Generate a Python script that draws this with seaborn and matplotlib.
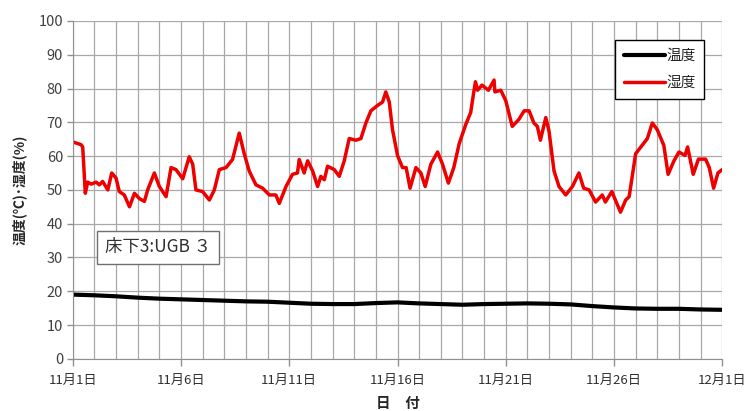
import matplotlib.pyplot as plt
import matplotlib.ticker as ticker
import pandas as pd
import seaborn as sns

# days since 11/1
hum_day = [0, 0.38, 0.46, 0.58, 0.69, 0.85, 1.08, 1.23, 1.38, 1.62, 1.8, 2.0, 2.15, 2.38, 2.62,
           2.85, 3.08, 3.31, 3.46, 3.77, 4.0, 4.31, 4.54, 4.77, 5.08, 5.38, 5.54, 5.69, 6.0,
           6.31, 6.54, 6.77, 7.08, 7.38, 7.69, 7.92, 8.15, 8.46, 8.77, 9.08, 9.38, 9.54, 9.85,
           10.15, 10.38, 10.46, 10.69, 10.85, 11.08, 11.31, 11.46, 11.62, 11.77, 12.08, 12.31,
           12.54, 12.77, 13.08, 13.31, 13.54, 13.77, 14.08, 14.31, 14.46, 14.62, 14.77, 15.0,
           15.23, 15.4, 15.58, 15.85, 16.08, 16.28, 16.54, 16.85, 17.08, 17.35, 17.6, 17.85,
           18.15, 18.38, 18.5, 18.6, 18.7, 18.9, 19.2, 19.46, 19.5, 19.77, 20.0, 20.3, 20.6,
           20.85, 21.08, 21.3, 21.46, 21.6, 21.85, 22.0, 22.23, 22.46, 22.77, 23.08, 23.38,
           23.6, 23.85, 24.15, 24.46, 24.6, 24.9, 25.3, 25.54, 25.7, 26.0, 26.3, 26.54, 26.77,
           27.0, 27.3, 27.5, 27.77, 28.0, 28.28, 28.4, 28.66, 28.9, 29.23, 29.4, 29.6, 29.8,
           30.0]
humidity = [64.2, 63.4, 62.7, 49, 52.3, 51.7, 52.3, 51.5, 52.5, 50, 55, 53.5, 49.5, 48.5, 45,
            49, 47.4, 46.6, 50, 55, 51, 48, 56.6, 56, 53.3, 59.8, 57.6, 50, 49.5,
            47, 50, 56, 56.6, 59, 66.8, 60.7, 55.6, 51.5, 50.5, 48.5, 48.5, 46, 51,
            54.6, 55, 59, 55, 58.6, 55.6, 51, 54, 53, 57, 56, 54,
            58.6, 65.2, 64.7, 65.2, 69.8, 73.4, 75, 76, 79, 76, 67.8, 60.2,
            56.6, 56.6, 50.5, 56.6, 55, 51, 57.6, 61.2, 57.6, 52, 56.6, 63.7,
            69.3, 72.9, 78, 82, 79.5, 81, 79.5, 82.5, 79, 79.5, 76.4, 68.8, 70.8,
            73.4, 73.4, 69.8, 68.8, 64.7, 71.4, 67.3, 55.6, 51, 48.5, 51, 55,
            50.5, 50, 46.4, 48.5, 46.4, 49.5, 43.4, 47, 48, 60.7, 63.2, 65.2, 69.8,
            67.8, 63.2, 54.6, 58.6, 61.2, 60.2, 62.7, 54.6, 59.1, 59.1, 56.6, 50.5, 55,
            56]

temp_day = list(range(31))
temperature = [19.0, 18.8, 18.5, 18.1, 17.8, 17.6, 17.4, 17.2, 17.0, 16.9, 16.6, 16.3, 16.2,
               16.2, 16.5, 16.7, 16.4, 16.2, 16.0, 16.2, 16.3, 16.4, 16.3, 16.1, 15.6, 15.2,
               14.9, 14.8, 14.8, 14.6, 14.5]

tick_days = [0, 5, 10, 15, 20, 25, 30]
tick_labels = ['11月1日', '11月6日', '11月11日', '11月16日', '11月21日', '11月26日', '12月1日']

sns.set_style('whitegrid', {'grid.color': '#a8a8a8', 'axes.edgecolor': '#909090',
                            'xtick.bottom': True, 'ytick.left': True})
plt.rcParams['font.family'] = ['Noto Sans CJK JP', 'DejaVu Sans']

df = pd.concat([
    pd.DataFrame({'day': temp_day, 'value': temperature, 'series': '温度'}),
    pd.DataFrame({'day': hum_day, 'value': humidity, 'series': '湿度'}),
])

fig, ax = plt.subplots(figsize=(7.5, 4.11), dpi=100)
fig.subplots_adjust(left=0.097, right=0.963, top=0.949, bottom=0.127)

sns.lineplot(data=df, x='day', y='value', hue='series', palette=['black', '#ee0000'],
             linewidth=2.5, ax=ax, legend=False, estimator=None, sort=False)
ax.lines[0].set_linewidth(3.0)

ax.set_xlim(0, 30)
ax.set_ylim(0, 100)
ax.xaxis.set_major_locator(ticker.FixedLocator(tick_days))
ax.xaxis.set_major_formatter(ticker.FixedFormatter(tick_labels))
ax.xaxis.set_minor_locator(ticker.MultipleLocator(1))
ax.yaxis.set_major_locator(ticker.MultipleLocator(10))
for s in ['top', 'right']:
    ax.spines[s].set_visible(False)
ax.tick_params(axis='x', which='major', direction='out', length=5, width=1, color='#909090',
               labelsize=9.5, labelcolor='#303030', pad=6)
ax.tick_params(axis='x', which='minor', length=0)
ax.tick_params(axis='y', direction='out', length=4, width=1, color='#909090',
               labelsize=10.5, labelcolor='#404040', pad=3)
ax.grid(True, which='both', axis='x', color='#a8a8a8', linewidth=0.9)
ax.grid(True, which='major', axis='y', color='#a8a8a8', linewidth=0.9)
ax.set_axisbelow(True)

ax.set_xlabel('日　付', fontsize=10.5, fontweight='bold', labelpad=6)
ax.set_ylabel('温度(℃)･湿度(%)', fontsize=10, fontweight='bold', labelpad=8)

ax.text(0.05, 0.315, '床下3:UGB ３', transform=ax.transAxes, fontsize=12.5, color='#303030',
        bbox=dict(boxstyle='square,pad=0.45', facecolor='white', edgecolor='#707070', linewidth=1))

leg = ax.legend(handles=ax.lines[:2], labels=['温度', '湿度'], loc='upper right',
                bbox_to_anchor=(0.972, 0.944), borderaxespad=0, frameon=True, fancybox=False,
                fontsize=10.5, handlelength=2.8, handletextpad=0.1, labelspacing=0.9,
                borderpad=0.6)
leg.get_frame().set_edgecolor('black')
leg.get_frame().set_linewidth(1)
leg.get_frame().set_alpha(1)

fig.savefig('out.png', dpi=100)
